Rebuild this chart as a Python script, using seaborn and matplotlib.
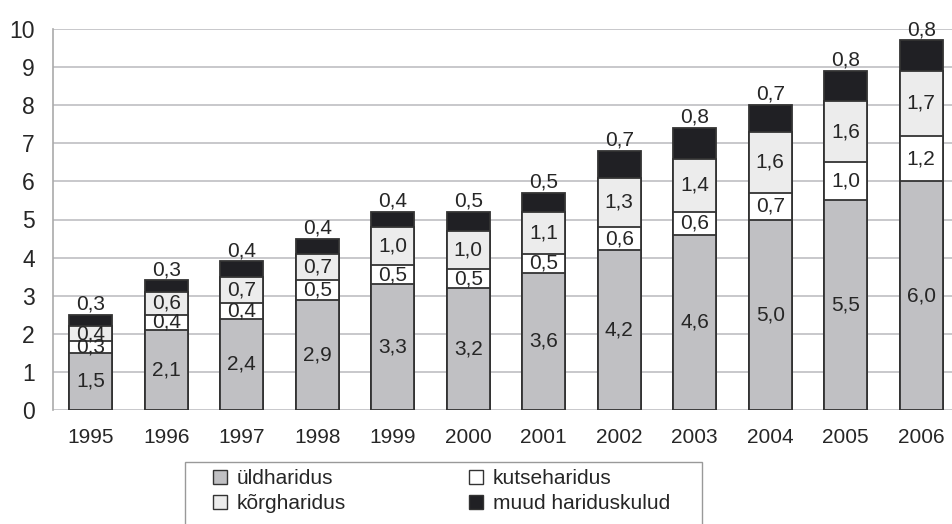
import matplotlib
matplotlib.use("Agg")
import matplotlib.pyplot as plt
import seaborn as sns
import pandas as pd
import numpy as np
from matplotlib.patches import Patch, Rectangle
from matplotlib.ticker import MultipleLocator

years = ["1995", "1996", "1997", "1998", "1999", "2000", "2001", "2002", "2003", "2004", "2005", "2006"]
yld = [1.5, 2.1, 2.4, 2.9, 3.3, 3.2, 3.6, 4.2, 4.6, 5.0, 5.5, 6.0]
kutse = [0.3, 0.4, 0.4, 0.5, 0.5, 0.5, 0.5, 0.6, 0.6, 0.7, 1.0, 1.2]
korg = [0.4, 0.6, 0.7, 0.7, 1.0, 1.0, 1.1, 1.3, 1.4, 1.6, 1.6, 1.7]
muud = [0.3, 0.3, 0.4, 0.4, 0.4, 0.5, 0.5, 0.7, 0.8, 0.7, 0.8, 0.8]
series_names = ["üldharidus", "kutseharidus", "kõrgharidus", "muud hariduskulud"]
colors = ["#c0c0c3", "#ffffff", "#ececec", "#202024"]

sns.set_style("white")
plt.rcParams["font.family"] = ["Liberation Sans", "DejaVu Sans"]

df = pd.DataFrame({"year": years, "yld": yld, "kutse": kutse, "korg": korg, "muud": muud})
c1 = df["yld"].values
c2 = c1 + df["kutse"].values
c3 = c2 + df["korg"].values
c4 = c3 + df["muud"].values
cums = [c1, c2, c3, c4]
vals = [df["yld"].values, df["kutse"].values, df["korg"].values, df["muud"].values]

W, H = 952, 524
fig = plt.figure(figsize=(W / 100, H / 100), dpi=100)
ax = fig.add_axes([53 / W, 114 / H, (W - 53) / W, (410 - 29) / H])

edge = "#333333"
for i in [3, 2, 1, 0]:
    sns.barplot(x=df["year"], y=cums[i], color=colors[i], saturation=1, width=0.57,
                edgecolor=edge, linewidth=1.3, ax=ax, zorder=3)

fs = 15
txtc = "#262626"
for j in range(len(years)):
    for i in range(3):
        center = cums[i][j] - vals[i][j] / 2
        ax.text(j, center, f"{vals[i][j]:.1f}".replace(".", ","), ha="center", va="center",
                fontsize=fs, color=txtc, zorder=5)
    ax.annotate(f"{vals[3][j]:.1f}".replace(".", ","), (j, c4[j]), xytext=(0, 1),
                textcoords="offset points", ha="center", va="bottom", fontsize=fs,
                color=txtc, annotation_clip=False, zorder=5)

ax.yaxis.set_major_locator(MultipleLocator(1))
ax.grid(axis="y", color="#c8c8cb", linewidth=1.4, zorder=0)
ax.set_axisbelow(True)
for s in ["top", "right", "bottom"]:
    ax.spines[s].set_visible(False)
ax.spines["left"].set_color("#aaaaaa")
ax.spines["left"].set_linewidth(1.2)
ax.set_xlabel("")
ax.set_ylabel("")
ax.tick_params(axis="y", length=6, color="#aaaaaa", labelsize=16.5, pad=7, labelcolor=txtc)
ax.tick_params(axis="x", which="major", length=0, labelsize=fs, pad=13, labelcolor=txtc)
ax.set_xticks(np.arange(-0.5, len(years) - 0.5, 1.0), minor=True)
ax.tick_params(axis="x", which="minor", length=4, color="#aaaaaa", width=1)
ax.set_ylim(0, 10)
ax.set_xlim(-0.5, (W - 53) / 75.5 - 0.5)

handles = [Patch(facecolor=colors[0], edgecolor=edge, label=series_names[0]),
           Patch(facecolor=colors[2], edgecolor=edge, label=series_names[2]),
           Patch(facecolor=colors[1], edgecolor=edge, label=series_names[1]),
           Patch(facecolor=colors[3], edgecolor=edge, label=series_names[3])]
leg = fig.legend(handles=handles, ncol=2, loc="upper left",
                 bbox_to_anchor=(213 / W, 1 - 469 / H),
                 fontsize=fs, frameon=False,
                 handlelength=0.65, handleheight=0.65, handletextpad=0.5,
                 borderpad=0, labelspacing=0.3, borderaxespad=0, columnspacing=5.9)
for t in leg.get_texts():
    t.set_color(txtc)
fig.patches.append(Rectangle((185 / W, -0.05), (702 - 185) / W, 0.05 + 1 - 462 / H,
                             transform=fig.transFigure, fill=False,
                             edgecolor="#999999", linewidth=1.0))

fig.savefig("out.png", dpi=100)
